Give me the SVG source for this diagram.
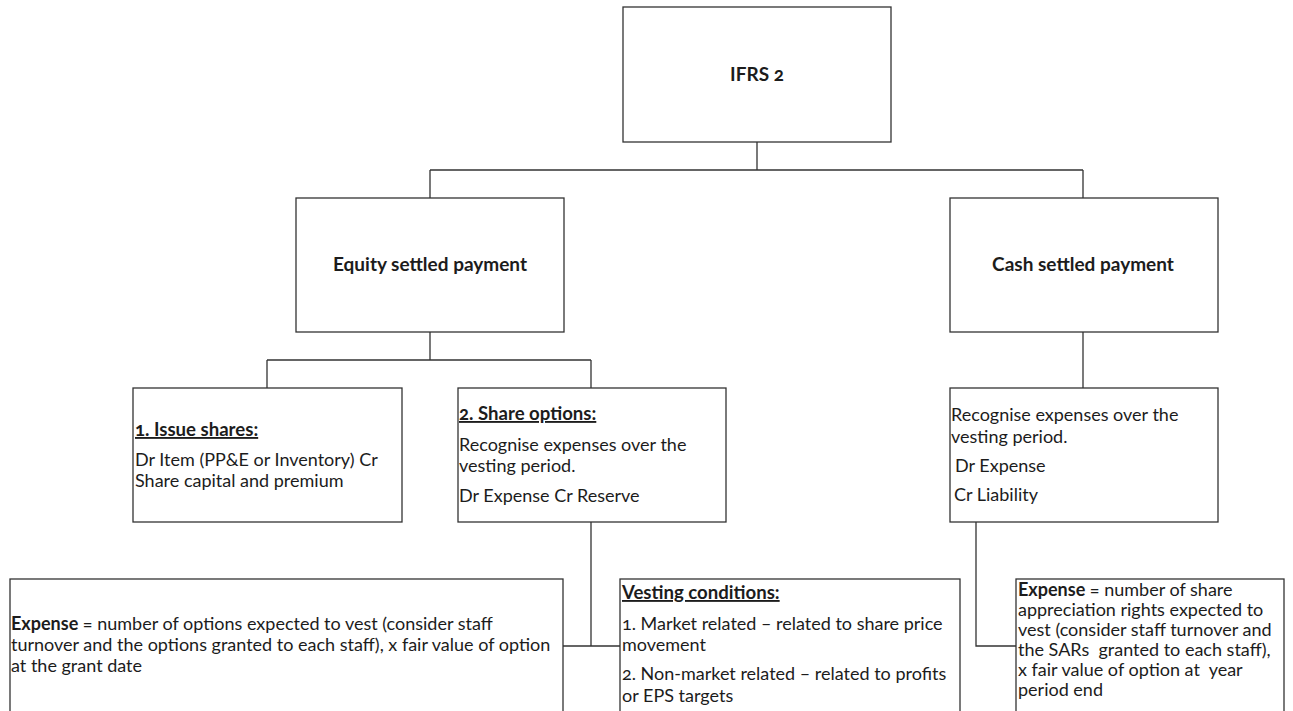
<svg xmlns="http://www.w3.org/2000/svg" width="1293" height="711" viewBox="0 0 1293 711">
  <style>
    .box { fill: #ffffff; stroke: #333333; stroke-width: 1.3; }
    .wire { fill: none; stroke: #333333; stroke-width: 1.3; }
    .t { font-family: Lato, "Noto Sans", "Liberation Sans", sans-serif; font-size: 18px; fill: #1c1c1c; font-variant-numeric: oldstyle-nums; font-feature-settings: "onum"; white-space: pre; }
    .b { font-weight: bold; }
    .h { font-size: 18.6px; }
    .title { font-size: 19px; }
    .c { text-anchor: middle; }
    .u { text-decoration: underline; }
  </style>
  <rect width="1293" height="711" fill="#ffffff"/>

  <!-- tree connectors -->
  <g id="connectors">
    <path class="wire" d="M757 142 V170 M430 170 H1083 M430 170 V198 M1083 170 V198"/>
    <path class="wire" d="M430 332 V360 M267 360 H591 M267 360 V388 M591 360 V388"/>
    <path class="wire" d="M1083 332 V388"/>
    <path class="wire" d="M591 522 V646 M563 646 H620"/>
    <path class="wire" d="M976 522 V646 H1016"/>
  </g>

  <g id="ifrs2">
    <rect class="box" x="623" y="7" width="268" height="135"/>
    <text class="t b c title" x="757" y="81">IFRS 2</text>
  </g>

  <g id="equity-settled">
    <rect class="box" x="296" y="198" width="268" height="134"/>
    <text class="t b c title" x="430" y="271">Equity settled payment</text>
  </g>

  <g id="cash-settled">
    <rect class="box" x="950" y="198" width="268" height="134"/>
    <text class="t b c title" x="1083" y="271">Cash settled payment</text>
  </g>

  <g id="issue-shares">
    <rect class="box" x="133" y="388" width="269" height="134"/>
    <text class="t b u h" x="135" y="436">1. Issue shares:</text>
    <text class="t" x="135" y="466">Dr Item (PP&amp;E or Inventory) Cr</text>
    <text class="t" x="135" y="487">Share capital and premium</text>
  </g>

  <g id="share-options">
    <rect class="box" x="458" y="388" width="268" height="134"/>
    <text class="t b u h" x="459" y="420">2. Share options:</text>
    <text class="t" x="459" y="451">Recognise expenses over the</text>
    <text class="t" x="459" y="472">vesting period.</text>
    <text class="t" x="459" y="502">Dr Expense Cr Reserve</text>
  </g>

  <g id="cash-recognition">
    <rect class="box" x="950" y="388" width="268" height="134"/>
    <text class="t" x="951" y="421">Recognise expenses over the</text>
    <text class="t" x="951" y="443">vesting period.</text>
    <text class="t" x="955" y="472">Dr Expense</text>
    <text class="t" x="954" y="501">Cr Liability</text>
  </g>

  <g id="equity-expense">
    <rect class="box" x="10" y="579" width="553" height="150"/>
    <text class="t" x="11" y="630"><tspan class="b">Expense</tspan> = number of options expected to vest (consider staff</text>
    <text class="t" x="11" y="651">turnover and the options granted to each staff), x fair value of option</text>
    <text class="t" x="11" y="672">at the grant date</text>
  </g>

  <g id="vesting-conditions">
    <rect class="box" x="620" y="579" width="340" height="150"/>
    <text class="t b u h" x="622" y="599">Vesting conditions:</text>
    <text class="t" x="622" y="630">1. Market related – related to share price</text>
    <text class="t" x="622" y="651">movement</text>
    <text class="t" x="622" y="680">2. Non-market related – related to profits</text>
    <text class="t" x="622" y="702">or EPS targets</text>
  </g>

  <g id="cash-expense">
    <rect class="box" x="1016" y="579" width="268" height="150"/>
    <text class="t" x="1018" y="596"><tspan class="b">Expense</tspan> = number of share</text>
    <text class="t" x="1018" y="616">appreciation rights expected to</text>
    <text class="t" x="1018" y="636">vest (consider staff turnover and</text>
    <text class="t" x="1018" y="656">the SARs  granted to each staff),</text>
    <text class="t" x="1018" y="676">x fair value of option at  year</text>
    <text class="t" x="1018" y="696">period end</text>
  </g>
</svg>
